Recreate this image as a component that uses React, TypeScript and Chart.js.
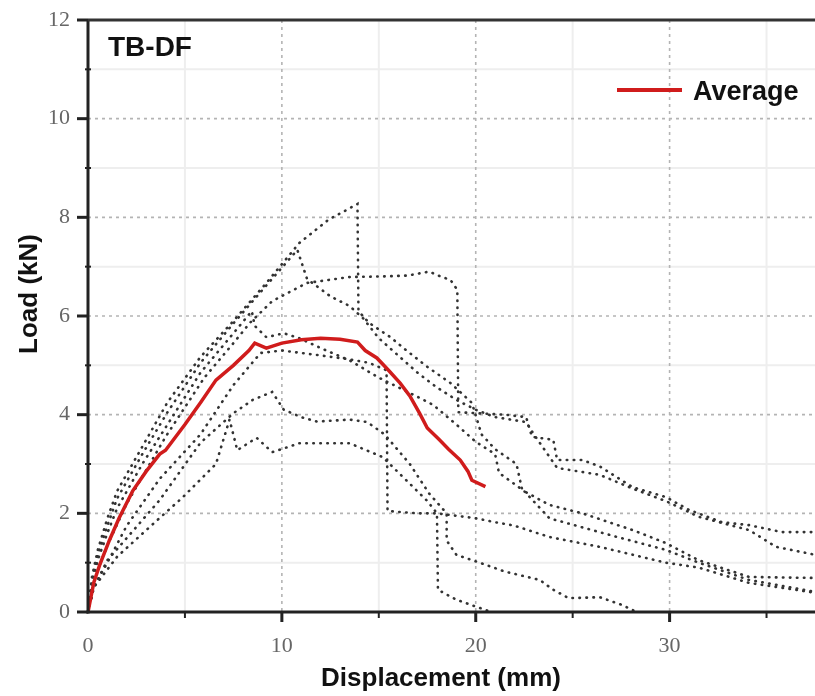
import React, { useEffect, useRef } from 'react';
import { Chart, registerables } from 'chart.js';

Chart.register(...registerables);

const X_MAX = 37.5;
const Y_MAX = 12;
const xMajor = [10, 20, 30];
const yMajor = [2, 4, 6, 8, 10];
const xMinor = [5, 15, 25, 35];
const yMinor = [1, 3, 5, 7, 9, 11];
const yTickMarks = [0, 2, 4, 6, 8, 10, 12];

const chartLabel = 'TB-DF';
const legendLabel = 'Average';
const xTitle = 'Displacement (mm)';
const yTitle = 'Load (kN)';

// Average curve
const avgX = [0, 0.3, 0.6, 1.1, 1.6, 2.3, 3, 3.7, 4, 5, 5.8, 6.6, 7.5, 8.3, 8.6, 9.2, 10, 11, 12, 13, 13.9, 14.3, 14.9, 15.5, 16.1, 16.6, 17.1, 17.5, 18.1, 18.6, 19.2, 19.6, 19.8, 20.5];
const avgY = [0, 0.6, 0.95, 1.45, 1.9, 2.45, 2.85, 3.2, 3.28, 3.8, 4.24, 4.7, 5.0, 5.3, 5.45, 5.35, 5.45, 5.52, 5.55, 5.53, 5.47, 5.3, 5.15, 4.9, 4.64, 4.38, 4.03, 3.73, 3.5, 3.3, 3.08, 2.85, 2.67, 2.54];

// Specimen curves
const s1X = [0, 0.2, 0.5, 1, 1.5, 2.8, 4.1, 5.8, 7.5, 9.2, 10.9, 12.4, 13.9, 13.95, 14.5, 15.6, 16.4, 17.5, 18.7, 19.8, 20.3, 21, 22.1, 22.4, 23.8, 25.5, 28.1, 29.8, 31.5, 34.1, 37.5];
const s1Y = [0, 0.7, 1.25, 1.9, 2.45, 3.35, 4.25, 5.17, 5.9, 6.67, 7.48, 7.95, 8.27, 6.1, 5.86, 5.57, 5.31, 4.97, 4.64, 4.24, 3.6, 3.3, 3.0, 2.47, 2.17, 2.0, 1.66, 1.4, 1.05, 0.71, 0.69];

const s2X = [0, 0.2, 0.5, 1, 1.5, 2.8, 4.1, 5.8, 7.5, 9.2, 10.8, 11.3, 12.5, 13.5, 14.2, 15, 16, 17, 18, 19, 20, 21, 22.6, 23, 24.2, 26.4, 28.1, 29.8, 31.5, 34.1, 35.5, 37.5];
const s2Y = [0, 0.62, 1.15, 1.75, 2.3, 3.2, 4.05, 5.05, 5.85, 6.62, 7.34, 6.75, 6.4, 6.2, 5.95, 5.55, 5.2, 4.85, 4.55, 4.3, 4.1, 3.95, 3.85, 3.6, 2.92, 2.78, 2.5, 2.25, 1.93, 1.66, 1.32, 1.16];

const s3X = [0, 0.3, 1, 2, 4, 6, 7.5, 8.35, 9.5, 11.3, 13.5, 15, 16.5, 17.6, 18.2, 18.7, 19.05, 19.1, 20, 21.5, 22.6, 22.9, 24, 24.2, 25.5, 26.4, 28.1, 29.8, 31, 32.7, 34.1, 35.8, 37.5];
const s3Y = [0, 0.65, 1.35, 2.2, 3.55, 4.75, 5.45, 5.86, 6.3, 6.67, 6.79, 6.8, 6.82, 6.9, 6.8, 6.73, 6.53, 4.05, 4.03, 4.0, 3.95, 3.55, 3.49, 3.08, 3.08, 2.95, 2.53, 2.33, 2.07, 1.82, 1.76, 1.62, 1.62];

const s4X = [0, 0.2, 0.5, 1, 1.5, 2.8, 4.1, 5.8, 7.5, 8.45, 8.6, 9.2, 10.1, 10.9, 12, 13.5, 15, 16.6, 17.8, 19, 20, 21, 21.2, 22.5, 23.8, 27.3, 29.8, 31.5, 34.1, 37.5];
const s4Y = [0, 0.55, 1.05, 1.6, 2.1, 3.0, 3.8, 4.85, 5.65, 6.1, 5.8, 5.57, 5.65, 5.55, 5.35, 5.1, 4.75, 4.44, 4.2, 3.8, 3.45, 3.2, 2.82, 2.45, 1.9, 1.52, 1.26, 1.0, 0.65, 0.41];

const s5X = [0, 0.3, 1, 2, 3.7, 5.8, 7.5, 8.9, 10, 12, 13.5, 14.5, 15.4, 15.45, 16, 17, 18, 19, 20, 21, 22, 23.8, 26.4, 29.8, 31.5, 34.1, 37.5];
const s5Y = [0, 0.5, 1.0, 1.75, 2.7, 3.6, 4.6, 5.25, 5.3, 5.2, 5.12, 5.05, 4.9, 2.05, 2.03, 2.0, 2.0, 1.95, 1.9, 1.82, 1.75, 1.52, 1.32, 1.0, 0.9, 0.59, 0.39];

const s6X = [0, 0.3, 1, 2, 3.7, 5.8, 7.5, 8.5, 9.5, 10.1, 11, 11.8, 13.5, 14.4, 15.3, 16.6, 17.6, 18.5, 18.5, 19, 20.2, 21.5, 23.3, 24, 24.8, 26.4, 27.5, 28.3];
const s6Y = [0, 0.5, 1.05, 1.5, 2.27, 3.43, 4.03, 4.3, 4.46, 4.1, 3.95, 3.86, 3.9, 3.85, 3.6, 3.0, 2.4, 2.0, 1.45, 1.16, 1.0, 0.82, 0.65, 0.45, 0.28, 0.3, 0.15, 0];

const s7X = [0, 0.3, 1.5, 3.2, 4.9, 6.6, 7.3, 7.7, 8.7, 9.5, 10.9, 13.5, 15.2, 16.6, 17.5, 18, 18.05, 19, 20.8];
const s7Y = [0, 0.5, 1.12, 1.73, 2.33, 3.0, 3.9, 3.28, 3.53, 3.24, 3.42, 3.42, 3.14, 2.6, 2.25, 2.0, 0.45, 0.25, 0];

const specimens: [number[], number[]][] = [
  [s1X, s1Y], [s2X, s2Y], [s3X, s3Y], [s4X, s4Y], [s5X, s5Y], [s6X, s6Y], [s7X, s7Y],
];

const toPoints = (xs: number[], ys: number[]) => xs.map((x, i) => ({ x, y: ys[i] }));

const SANS = "'Liberation Sans', Arial, sans-serif";
const SERIF = "'Liberation Serif', 'DejaVu Serif', serif";

const decorPlugin = {
  id: 'decor',
  beforeDatasetsDraw(chart: any) {
    const { ctx, chartArea: a, scales } = chart;
    const xs = scales.x;
    const ys = scales.y;
    ctx.save();
    ctx.lineWidth = 2;
    ctx.strokeStyle = '#eeeeee';
    xMinor.forEach((v) => {
      const p = xs.getPixelForValue(v);
      ctx.beginPath(); ctx.moveTo(p, a.top); ctx.lineTo(p, a.bottom); ctx.stroke();
    });
    yMinor.forEach((v) => {
      const p = ys.getPixelForValue(v);
      ctx.beginPath(); ctx.moveTo(a.left, p); ctx.lineTo(a.right, p); ctx.stroke();
    });
    ctx.setLineDash([3, 4]);
    ctx.lineWidth = 1.6;
    ctx.strokeStyle = '#b4b4b4';
    xMajor.forEach((v) => {
      const p = xs.getPixelForValue(v);
      ctx.beginPath(); ctx.moveTo(p, a.top); ctx.lineTo(p, a.bottom); ctx.stroke();
    });
    yMajor.forEach((v) => {
      const p = ys.getPixelForValue(v);
      ctx.beginPath(); ctx.moveTo(a.left, p); ctx.lineTo(a.right, p); ctx.stroke();
    });
    ctx.restore();
  },
  afterDatasetsDraw(chart: any) {
    const { ctx, chartArea: a, scales } = chart;
    const xs = scales.x;
    const ys = scales.y;
    ctx.save();
    ctx.strokeStyle = '#222';
    ctx.lineWidth = 3;
    ctx.beginPath(); ctx.moveTo(a.left, a.top); ctx.lineTo(a.left, a.bottom + 1.5); ctx.stroke();
    ctx.beginPath(); ctx.moveTo(a.left - 1.5, a.bottom); ctx.lineTo(a.right, a.bottom); ctx.stroke();
    ctx.strokeStyle = '#333';
    ctx.beginPath(); ctx.moveTo(a.left, a.top); ctx.lineTo(a.right, a.top); ctx.stroke();
    ctx.strokeStyle = '#222';
    ctx.lineWidth = 3;
    yTickMarks.forEach((v) => {
      const p = ys.getPixelForValue(v);
      ctx.beginPath(); ctx.moveTo(a.left - 11, p); ctx.lineTo(a.left, p); ctx.stroke();
    });
    xMajor.forEach((v) => {
      const p = xs.getPixelForValue(v);
      ctx.beginPath(); ctx.moveTo(p, a.bottom); ctx.lineTo(p, a.bottom + 10); ctx.stroke();
    });
    ctx.lineWidth = 2;
    yMinor.forEach((v) => {
      const p = ys.getPixelForValue(v);
      ctx.beginPath(); ctx.moveTo(a.left - 3, p); ctx.lineTo(a.left + 3, p); ctx.stroke();
    });
    xMinor.forEach((v) => {
      const p = xs.getPixelForValue(v);
      ctx.beginPath(); ctx.moveTo(p, a.bottom); ctx.lineTo(p, a.bottom + 6); ctx.stroke();
    });
    ctx.fillStyle = '#111';
    ctx.font = `bold 28px ${SANS}`;
    ctx.textAlign = 'left';
    ctx.textBaseline = 'alphabetic';
    ctx.fillText(chartLabel, 108, 56);
    ctx.strokeStyle = '#d01c1c';
    ctx.lineWidth = 4;
    ctx.beginPath(); ctx.moveTo(617, 90); ctx.lineTo(682, 90); ctx.stroke();
    ctx.font = `bold 27px ${SANS}`;
    ctx.fillText(legendLabel, 693, 100);
    ctx.font = `bold 26px ${SANS}`;
    ctx.textAlign = 'center';
    ctx.fillText(xTitle, 441, 686);
    ctx.translate(37, 294);
    ctx.rotate(-Math.PI / 2);
    ctx.fillText(yTitle, 0, 0);
    ctx.restore();
  },
};

export default function App() {
  const ref = useRef<HTMLCanvasElement | null>(null);
  useEffect(() => {
    document.body.style.margin = '0';
    if (!ref.current) return;
    const datasets: any[] = [
      {
        label: legendLabel,
        data: toPoints(avgX, avgY),
        borderColor: '#d01c1c',
        borderWidth: 3.5,
        pointRadius: 0,
        tension: 0,
      },
      ...specimens.map(([xs, ys], i) => ({
        label: `S${i + 1}`,
        data: toPoints(xs, ys),
        borderColor: '#333333',
        borderWidth: 2.6,
        borderDash: [0.5, 6.5],
        borderCapStyle: 'round',
        pointRadius: 0,
        tension: 0,
      })),
    ];
    const chart = new Chart(ref.current, {
      type: 'scatter',
      data: { datasets },
      options: {
        animation: false,
        responsive: false,
        showLine: true,
        layout: { padding: { top: 20, right: 0, left: 0, bottom: 0 } },
        plugins: { legend: { display: false }, tooltip: { enabled: false } },
        scales: {
          x: {
            type: 'linear',
            min: 0,
            max: X_MAX,
            grid: { display: false, drawTicks: false },
            border: { display: false },
            ticks: {
              stepSize: 10,
              includeBounds: false,
              color: '#666',
              padding: 21,
              font: { family: SERIF, size: 22 },
            },
            afterFit: (s: any) => { s.height = 84; s.paddingLeft = 0; s.paddingRight = 0; },
          },
          y: {
            type: 'linear',
            min: 0,
            max: Y_MAX,
            grid: { display: false, drawTicks: false },
            border: { display: false },
            ticks: {
              stepSize: 2,
              color: '#666',
              padding: 18,
              font: { family: SERIF, size: 22 },
            },
            afterFit: (s: any) => { s.width = 88; s.paddingTop = 0; s.paddingBottom = 0; },
          },
        },
      } as any,
      plugins: [decorPlugin],
    });
    return () => chart.destroy();
  }, []);
  return (
    <div style={{ width: 815, height: 696 }}>
      <canvas ref={ref} width={815} height={696} />
    </div>
  );
}
